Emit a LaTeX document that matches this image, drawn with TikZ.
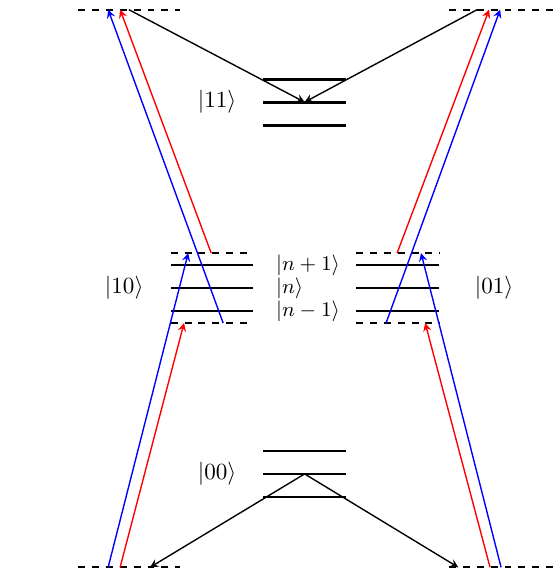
\documentclass[tikz,border=0pt]{standalone}
\usepackage{amsmath}
\usepackage{amssymb}
\usepackage{tikz}

\begin{document}
\begin{tikzpicture}[x=0.7cm, y=0.7cm, >=stealth,
            level/.style={very thick},
            virt/.style={thick, dashed},
            trans/.style={->, semithick}]
            \def\ytop{6.05}
            \def\ybot{-6.07}
            \useasboundingbox (-6.62,-6.28) rectangle (5.40,6.26);

            % virtual levels
            \draw[virt] (-4.92, \ytop) -- (-2.70, \ytop);
            \draw[virt] (3.14, \ytop) -- (5.40, \ytop);
            \draw[virt] (-4.92, \ybot) -- (-2.70, \ybot);
            \draw[virt] (3.14, \ybot) -- (5.40, \ybot);
            \draw[virt] (-2.91, 0.76) -- (-1.12, 0.76);
            \draw[virt] (-2.91, -0.76) -- (-1.12, -0.76);
            \draw[virt] (1.12, 0.76) -- (2.93, 0.76);
            \draw[virt] (1.12, -0.76) -- (2.93, -0.76);

            % manifolds
            \foreach \y in {-0.5, 0, 0.5} {
                \draw[level] (-0.9, 4.04+\y) -- (0.9, 4.04+\y);
                \draw[level] (-0.9, -4.04+\y) -- (0.9, -4.04+\y);
                \draw[level] (-2.91, \y) -- (-1.12, \y);
                \draw[level] (1.12, \y) -- (2.93, \y);
            }

            \node (s11) at (-1.9, 4.04) {$|11\rangle$};
            \node (s00) at (-1.9, -4.04) {$|00\rangle$};
            \node (s10) at (-3.92, 0) {$|10\rangle$};
            \node (s01) at (4.12, 0) {$|01\rangle$};
            \node[anchor=west, inner sep=1pt, font=\small] (np) at (-0.68, 0.5) {$|n+1\rangle$};
            \node[anchor=west, inner sep=1pt, font=\small] (n0) at (-0.68, 0) {$|n\rangle$};
            \node[anchor=west, inner sep=1pt, font=\small] (nm) at (-0.68, -0.5) {$|n-1\rangle$};

            % end points
            \coordinate (c11) at (0, 4.04);
            \coordinate (c00) at (0, -4.04);
            \coordinate (tlB) at (-4.27, \ytop);
            \coordinate (tlR) at (-4.01, \ytop);
            \coordinate (tlK) at (-3.82, \ytop);
            \coordinate (trK) at (3.75, \ytop);
            \coordinate (trR) at (4.01, \ytop);
            \coordinate (trB) at (4.25, \ytop);
            \coordinate (blB) at (-4.27, \ybot);
            \coordinate (blR) at (-4.01, \ybot);
            \coordinate (blK) at (-3.36, \ybot);
            \coordinate (brK) at (3.34, \ybot);
            \coordinate (brR) at (4.03, \ybot);
            \coordinate (brB) at (4.27, \ybot);
            \coordinate (lBup) at (-2.53, 0.76);
            \coordinate (lBdn) at (-1.77, -0.76);
            \coordinate (lRup) at (-2.03, 0.76);
            \coordinate (lRdn) at (-2.62, -0.76);
            \coordinate (rBup) at (2.53, 0.76);
            \coordinate (rBdn) at (1.77, -0.76);
            \coordinate (rRup) at (2.01, 0.76);
            \coordinate (rRdn) at (2.62, -0.76);

            \draw[trans, blue] (blB) -- (lBup);
            \draw[trans, blue] (lBdn) -- (tlB);
            \draw[trans, blue] (brB) -- (rBup);
            \draw[trans, blue] (rBdn) -- (trB);

            \draw[trans, red] (blR) -- (lRdn);
            \draw[trans, red] (lRup) -- (tlR);
            \draw[trans, red] (brR) -- (rRdn);
            \draw[trans, red] (rRup) -- (trR);

            \draw[trans] (tlK) -- (c11);
            \draw[trans] (trK) -- (c11);
            \draw[trans] (c00) -- (blK);
            \draw[trans] (c00) -- (brK);
        \end{tikzpicture}
\end{document}
